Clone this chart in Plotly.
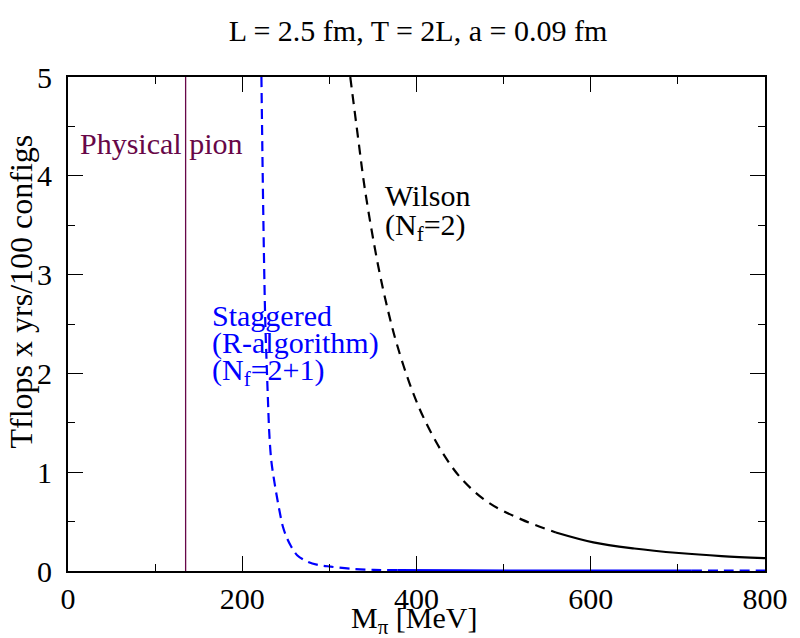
import plotly.graph_objects as go

# ---- data ----
wilson_m = [324, 333, 341, 356, 368, 377, 392, 408, 430, 453, 483, 521, 560,
            603, 650, 701, 750, 800]
wilson_cost = [5.0, 4.38, 3.85, 3.09, 2.61, 2.31, 1.90, 1.555, 1.195, 0.92, 0.69, 0.52, 0.39,
               0.29, 0.228, 0.182, 0.151, 0.13]
wilson_solid_from = 560  # dashed above this mass, solid below

stag_m = [222, 223.5, 225.3, 226.5, 227.6, 229.5, 231, 233.3, 236, 239, 242.5, 246.6, 251, 256,
          263, 275, 287, 301.5, 325, 351, 378, 450, 550, 650, 716, 760, 800]
stag_cost = [5.0, 4.0, 3.0, 2.5, 2.2, 1.73, 1.4, 1.12, 0.95, 0.79, 0.62, 0.45, 0.34, 0.25,
             0.16, 0.094, 0.062, 0.044, 0.022, 0.012, 0.008, 0.006, 0.005, 0.005, 0.005, 0.005, 0.005]
stag_solid_range = (378, 716)  # solid-looking section of the staggered curve

phys_pion = 135
y_range = [0, 5]
x_range = [0, 800]
x_ticks = [0, 200, 400, 600, 800]
y_ticks = [0, 1, 2, 3, 4, 5]

BLUE = "#0000ff"
MAROON = "#670748"
FONT = "Liberation Serif"

fig = go.Figure()

# physical pion vertical line
fig.add_trace(go.Scatter(x=[phys_pion, phys_pion], y=y_range, mode="lines",
                         line=dict(color=MAROON, width=1.3), showlegend=False))

# staggered curve (dashed / solid / dashed)
lo, hi = stag_solid_range
seg1 = [(m, c) for m, c in zip(stag_m, stag_cost) if m <= lo]
seg2 = [(m, c) for m, c in zip(stag_m, stag_cost) if lo <= m <= hi]
seg3 = [(m, c) for m, c in zip(stag_m, stag_cost) if m >= hi]
for seg, dash in [(seg1, "10px,6px"), (seg2, "solid"), (seg3, "10px,6px")]:
    fig.add_trace(go.Scatter(x=[p[0] for p in seg], y=[p[1] for p in seg], mode="lines",
                             line=dict(color=BLUE, width=2.2, dash=dash, shape="spline", smoothing=1.0),
                             showlegend=False))

# wilson curve (dashed upper part, solid lower part)
w1 = [(m, c) for m, c in zip(wilson_m, wilson_cost) if m <= wilson_solid_from]
w2 = [(m, c) for m, c in zip(wilson_m, wilson_cost) if m >= wilson_solid_from]
for seg, dash in [(w1, "10px,7px"), (w2, "solid")]:
    fig.add_trace(go.Scatter(x=[p[0] for p in seg], y=[p[1] for p in seg], mode="lines",
                             line=dict(color="black", width=2.2, dash=dash, shape="spline", smoothing=1.0),
                             showlegend=False))

axis_common = dict(showline=True, linecolor="black", linewidth=2, mirror="allticks",
                   ticks="inside", ticklen=15, tickwidth=1.2, tickcolor="black",
                   showgrid=False, zeroline=False,
                   tickfont=dict(family=FONT, size=30, color="black"))

fig.update_xaxes(range=x_range, tickvals=x_ticks, ticktext=[str(v) for v in x_ticks],
                 minor=dict(ticks="inside", ticklen=7, tickwidth=1.2, tickcolor="black", dtick=100),
                 **axis_common)
fig.update_yaxes(range=y_range, tickvals=y_ticks, ticktext=[str(v) for v in y_ticks],
                 minor=dict(ticks="inside", ticklen=7, tickwidth=1.2, tickcolor="black", dtick=0.5),
                 ticklabelstandoff=8, **axis_common)

annots = []
def txt(x, y, text, color="black", size=30, xref="x", yref="y", xanchor="left", **kw):
    annots.append(dict(x=x, y=y, xref=xref, yref=yref, text=text, showarrow=False,
                       xanchor=xanchor, yanchor="middle",
                       font=dict(family=FONT, size=size, color=color), **kw))

txt(12, 4.33, "Physical pion", color=MAROON)
txt(362, 3.80, "Wilson")
txt(362, 3.48, "(N<sub>f</sub>=2)")
txt(163, 2.59, "Staggered", color=BLUE)
txt(163, 2.31, "(R-algorithm)", color=BLUE)
txt(163, 2.01, "(N<sub>f</sub>=2+1)", color=BLUE)

# axis titles
txt(0.497, -0.1, "M<sub>π</sub> [MeV]", xref="paper", yref="paper", xanchor="center")
txt(-0.068, 0.565, "Tflops x yrs/100 configs", size=32, xref="paper", yref="paper",
    xanchor="center", textangle=-90)

fig.update_layout(
    width=800, height=638,
    margin=dict(l=68, r=28, t=77, b=67),
    paper_bgcolor="white", plot_bgcolor="white",
    title=dict(text="L = 2.5 fm, T = 2L, a = 0.09 fm", x=0.5225, xanchor="center",
               y=1 - 30 / 638, yanchor="middle", yref="container",
               font=dict(family=FONT, size=30, color="black")),
    annotations=annots,
    showlegend=False,
)

fig.write_html("out.html")
